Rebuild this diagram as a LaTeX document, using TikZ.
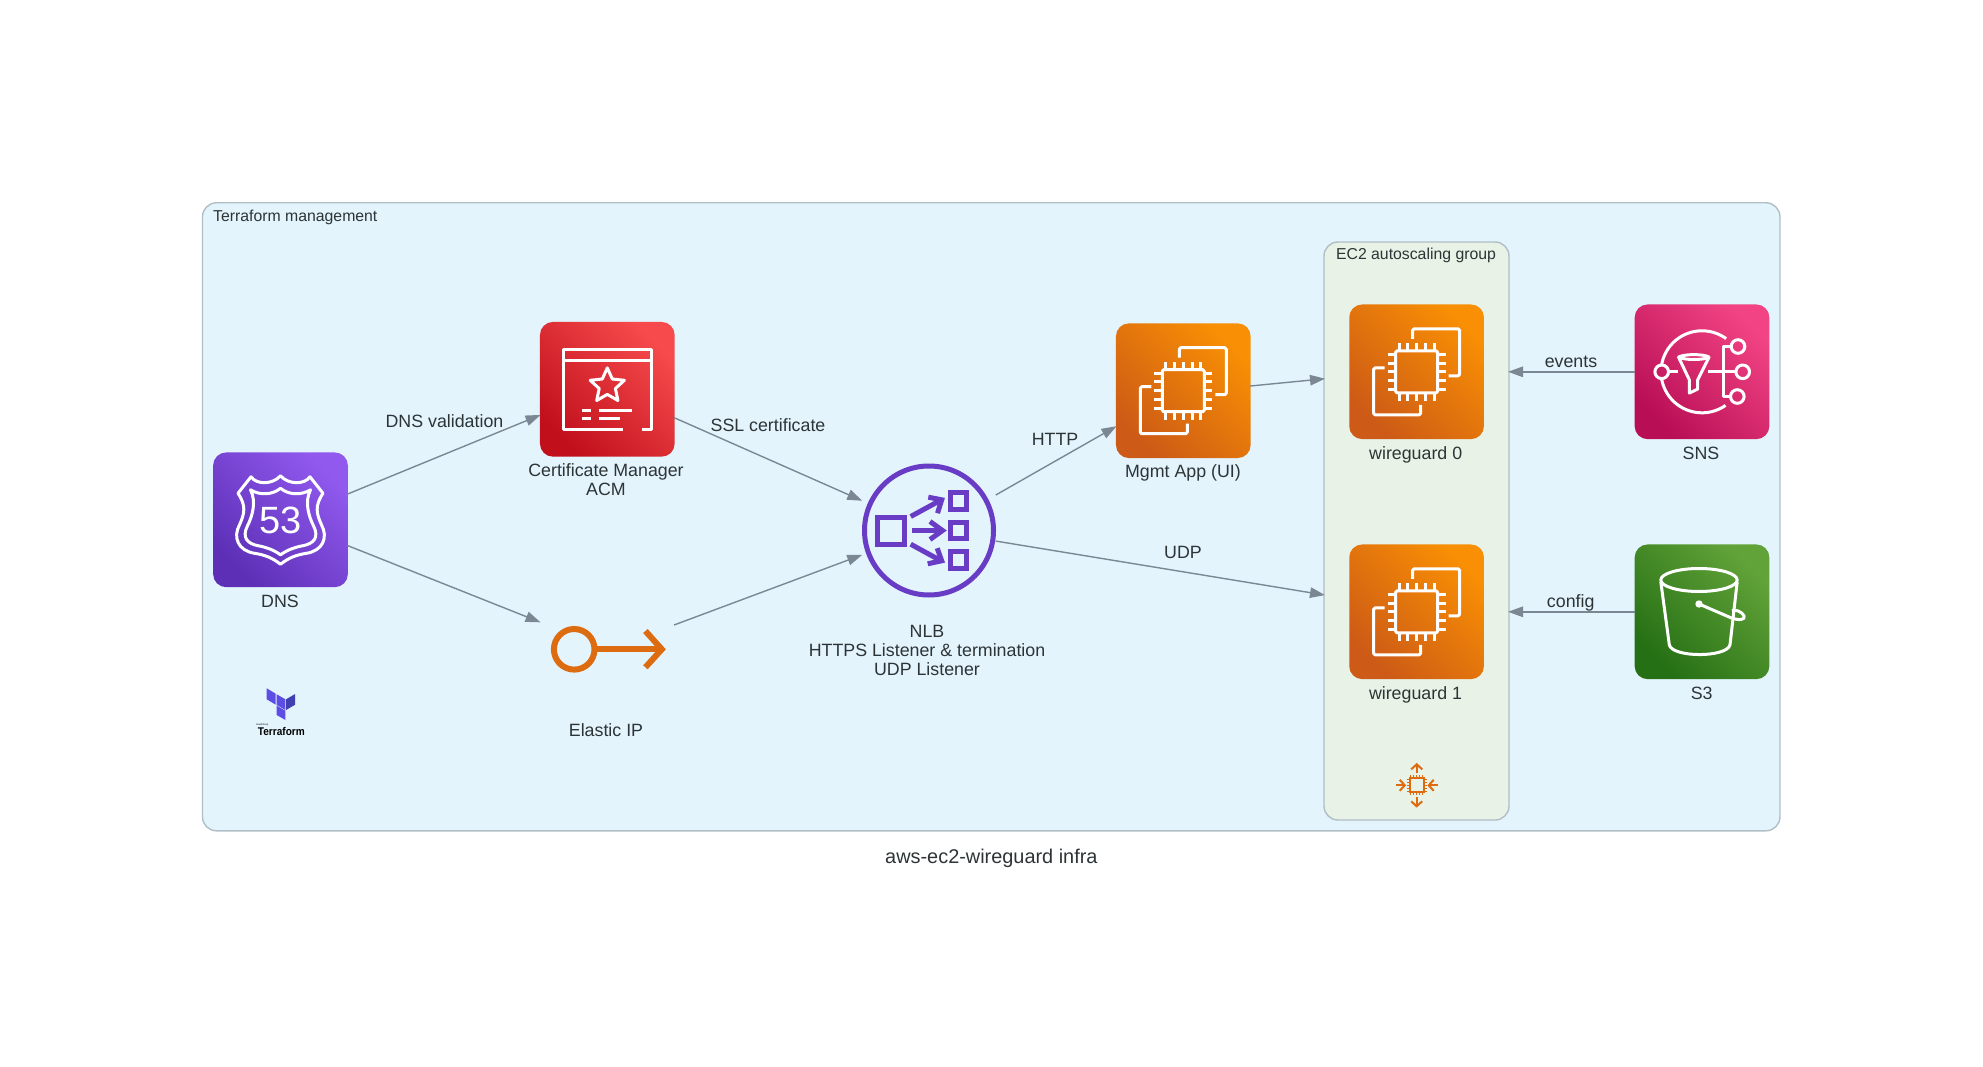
\documentclass[tikz,border=0pt]{standalone}
\usepackage{fontspec}
\setmainfont{Liberation Sans}
\usetikzlibrary{arrows.meta}
\definecolor{inktext}{HTML}{2D3436}
\definecolor{edgegrey}{HTML}{7B8894}
\definecolor{borderblue}{HTML}{B0BEC5}
\definecolor{orangeline}{HTML}{DD6B10}
\definecolor{purpleline}{HTML}{693CC5}
\definecolor{skyfill}{HTML}{E3F4FD}
\definecolor{sagefill}{HTML}{E9F2E6}
\definecolor{dnslow}{HTML}{5C2FB6}
\definecolor{dnshigh}{HTML}{9159EE}
\definecolor{acmlow}{HTML}{C1101C}
\definecolor{acmhigh}{HTML}{F64A4C}
\definecolor{ec2low}{HTML}{CD5A16}
\definecolor{ec2high}{HTML}{F88F04}
\definecolor{snslow}{HTML}{B80E55}
\definecolor{snshigh}{HTML}{F24484}
\definecolor{s3low}{HTML}{256F14}
\definecolor{s3high}{HTML}{62A339}
\definecolor{tflight}{HTML}{5C4EE5}
\definecolor{tfdark}{HTML}{4040B2}
\tikzset{
  clusterbox/.style={rectangle,draw=borderblue,line width=1.4pt,rounded corners=14pt,inner sep=0pt,outer sep=-1pt},
  awsicon/.style n args={2}{rectangle,rounded corners=13pt,minimum size=134.7pt,inner sep=0pt,outer sep=-.6pt,
    bottom color=#1,top color=#2,shading angle=-45},
  plainicon/.style={rectangle,minimum size=134.7pt,inner sep=0pt,outer sep=-.6pt},
  nodelabel/.style={anchor=base,inner sep=0pt,text=inktext,font=\fontsize{17.8}{19}\selectfont,align=center},
  clusterlabel/.style={anchor=base,inner sep=0pt,text=inktext,font=\fontsize{15.8}{18}\selectfont},
  titlelabel/.style={anchor=base,inner sep=0pt,text=inktext,font=\fontsize{19.9}{22}\selectfont},
  flow/.style={draw=edgegrey,line width=1.4pt,-{Triangle[length=15pt,width=10.5pt]}},
  iconline/.style={draw=white,line width=3pt,line join=round},
  pics/chipicon/.style={code={
    \draw[iconline,rounded corners=1.5pt] (-21,-21) rectangle (21,21);
    \foreach \p in {-17.6,-8.8,0,8.8,17.6} {
      \draw[iconline] (\p,-22) -- (\p,-29);
      \draw[iconline] (\p,22) -- (\p,29);
      \draw[iconline] (-22,\p) -- (-29,\p);
      \draw[iconline] (22,\p) -- (29,\p);
    }
    \draw[iconline,rounded corners=1.5pt] (-4,-33) -- (-4,-43) -- (43,-43) -- (43,4) -- (32,4);
    \draw[iconline,rounded corners=1.5pt] (-32,-4) -- (-43,-4) -- (-43,43) -- (4,43) -- (4,33);
  }},
  pics/shieldicon/.style={code={
    \draw[iconline] (-29.5,-43) .. controls (-24,-35) and (-8,-35) .. (0,-44)
      .. controls (8,-35) and (24,-35) .. (29.5,-43) -- (42.5,-26.5)
      .. controls (34,-14) and (36,-6) .. (41,5) .. controls (48,18) and (42,31) .. (26,33.5)
      .. controls (16,35) and (8,38) .. (0,44.5) .. controls (-8,38) and (-16,35) .. (-26,33.5)
      .. controls (-42,31) and (-48,18) .. (-41,5) .. controls (-36,-6) and (-34,-14) .. (-42.5,-26.5) -- cycle;
    \draw[iconline] (-30,-30) .. controls (-20,-24) and (-8,-25) .. (0,-31.5)
      .. controls (8,-25) and (20,-24) .. (30,-30)
      .. controls (24,-18) and (28,-4) .. (33,6) .. controls (39,18) and (33,24) .. (22,26)
      .. controls (14,27.5) and (7,30) .. (0,35) .. controls (-7,30) and (-14,27.5) .. (-22,26)
      .. controls (-33,24) and (-39,18) .. (-33,6) .. controls (-28,-4) and (-24,-18) .. (-30,-30) -- cycle;
    \node[text=white,inner sep=0pt,font=\fontsize{38}{38}\selectfont] (digits) at (0,1) {53};
  }},
  pics/certicon/.style={code={
    \draw[iconline] (16,40) -- (-44,40) -- (-44,-40) -- (44,-40) -- (44,40) -- (34.6,40);
    \draw[iconline] (-44,-28.5) -- (44,-28.5);
    \draw[iconline] (0,-21.4) -- (5,-10.3) -- (17.1,-9) -- (8.1,-0.8) -- (10.6,11.2) -- (0,5.1)
      -- (-10.6,11.2) -- (-8.1,-0.8) -- (-17.1,-9) -- (-5,-10.3) -- cycle;
    \draw[iconline] (-25,21) -- (-16.5,21);
    \draw[iconline] (-8.4,21) -- (24.8,21);
    \draw[iconline] (-25,28.7) -- (-16.5,28.7);
    \draw[iconline] (-8.4,28.7) -- (12.7,28.7);
  }},
  pics/topicicon/.style={code={
    \draw[iconline] plot[domain=54:170,samples=40] ({41*cos(\x)},{-41*sin(\x)});
    \draw[iconline] plot[domain=190:305,samples=40] ({41*cos(\x)},{-41*sin(\x)});
    \draw[iconline] (-40.3,0) circle (6.8);
    \draw[iconline] (-33.5,0) -- (-23.7,0);
    \draw[iconline] (-23.5,-14.7) .. controls (-18,-18) and (2,-18) .. (7,-14.7)
      .. controls (2,-11.5) and (-18,-11.5) .. (-23.5,-14.7) -- (-12.7,8) -- (-12.7,21.3) -- (-4.3,17.3) -- (-4.3,8) -- (7,-14.7);
    \draw[iconline] (6.3,0) -- (33.9,0);
    \draw[iconline] (40.7,0) circle (6.8);
    \draw[iconline] (29,-25.3) -- (21.3,-25.3) -- (21.3,24.7) -- (28.5,24.7);
    \draw[iconline] (36,-25.3) circle (6.8);
    \draw[iconline] (35.3,24.7) circle (6.8);
  }},
  pics/bucketicon/.style={code={
    \draw[iconline] (-3,-31.8) ellipse (38.2 and 11.5);
    \draw[iconline] (-41.2,-30) -- (-32.7,33) .. controls (-30,46) and (25,46) .. (28,33) -- (35.2,-30);
    \fill[white] (-3,-7.8) circle (3.7);
    \draw[iconline] (-3,-7.8) -- (29,6) .. controls (37,9) and (44,8) .. (42,4)
      .. controls (40,0) and (33,-3) .. (30,-1);
  }},
  pics/balancericon/.style={code={
    \begin{scope}[draw=purpleline,line width=5pt,line join=miter]
      \draw (0,0) circle (64.5);
      \draw (-51.5,-13.2) rectangle (-24.2,13.5);
      \draw (21,-38.4) rectangle (37.7,-21.3);
      \draw (21,-8.4) rectangle (37.7,7.7);
      \draw (21,21) rectangle (37.7,37.7);
      \draw (-18.3,-14) -- (11.5,-30.2);
      \draw (-0.7,-33.3) -- (12.7,-30.7) -- (8.5,-17.3);
      \draw (-16.7,0) -- (13,0);
      \draw (1,-9) -- (13.5,0) -- (1,9);
      \draw (-18.3,13.7) -- (11.5,30);
      \draw (-1.3,33.3) -- (12.7,30.3) -- (8.2,17.7);
    \end{scope}
  }},
  pics/keyicon/.style={code={
    \draw[draw=orangeline,line width=6pt] (-33.1,0) circle (20.3);
    \draw[draw=orangeline,line width=6pt] (-12.8,0) -- (54,0);
    \draw[draw=orangeline,line width=6pt] (38.1,-18.3) -- (54.5,0) -- (38.1,18);
  }},
  pics/scaleicon/.style={code={
    \draw[draw=orangeline,line width=2pt] (-7,-7) rectangle (7,7);
    \foreach \p in {-6,-3,0,3,6} {
      \draw[draw=orangeline,line width=1pt] (\p,-8) -- (\p,-10);
      \draw[draw=orangeline,line width=1pt] (\p,8) -- (\p,10);
      \draw[draw=orangeline,line width=1pt] (-8,\p) -- (-10,\p);
      \draw[draw=orangeline,line width=1pt] (8,\p) -- (10,\p);
    }
    \draw[draw=orangeline,line width=2pt] (0,-12) -- (0,-21);
    \draw[draw=orangeline,line width=2pt] (-5.5,-16) -- (0,-21) -- (5.5,-16);
    \draw[draw=orangeline,line width=2pt] (0,12) -- (0,21);
    \draw[draw=orangeline,line width=2pt] (-5.5,16) -- (0,21) -- (5.5,16);
    \draw[draw=orangeline,line width=2pt] (-21,0) -- (-12,0);
    \draw[draw=orangeline,line width=2pt] (-17,-5.5) -- (-12,0) -- (-17,5.5);
    \draw[draw=orangeline,line width=2pt] (21,0) -- (12,0);
    \draw[draw=orangeline,line width=2pt] (17,-5.5) -- (12,0) -- (17,5.5);
  }},
  pics/tflogo/.style={code={
    \fill[tflight] (-14.7,-27.7) -- (-5.7,-22.3) -- (-5.7,-11.3) -- (-14.7,-16.7) -- cycle;
    \fill[tflight] (-4.7,-21.7) -- (4,-16.7) -- (4,-6) -- (-4.7,-11) -- cycle;
    \fill[tfdark] (4.7,-16.7) -- (13.7,-22) -- (13.7,-11.3) -- (4.7,-6) -- cycle;
    \fill[tflight] (-4.7,-10.3) -- (4,-5.3) -- (4,4) -- (-4.7,-1) -- cycle;
    \node[anchor=base,inner sep=0pt,text=black,font=\fontsize{2.5}{3}\selectfont] (hashiword) at (-19,9) {HashiCorp};
    \node[anchor=base,inner sep=0pt,text=black,xscale=.9,font=\bfseries\fontsize{11.2}{12}\selectfont] (tfword) at (0,19.7) {Terraform};
  }},
}
\begin{document}
\begin{tikzpicture}[x=1pt,y=-1pt]
  \useasboundingbox (0,0) rectangle (1983,1067);
  \node[clusterbox,fill=skyfill,minimum width=1577.5pt,minimum height=628pt] (tfcluster) at (991.2,516.8) {};
  \node[clusterbox,fill=sagefill,minimum width=185pt,minimum height=578pt] (ec2group) at (1416.5,531) {};

  \node[awsicon={dnslow}{dnshigh}] (dns) at (280.5,519.8) {};
  \node[plainicon] (eip) at (607.3,649.3) {};
  \node[plainicon] (nlb) at (929,530.5) {};
  \node[awsicon={acmlow}{acmhigh}] (acm) at (607.3,389.3) {};
  \node[awsicon={ec2low}{ec2high}] (mgmt) at (1183.3,390.7) {};
  \node[awsicon={ec2low}{ec2high}] (wg0) at (1416.6,371.8) {};
  \node[awsicon={ec2low}{ec2high}] (wg1) at (1416.6,611.8) {};
  \node[awsicon={snslow}{snshigh}] (sns) at (1702,371.8) {};
  \node[awsicon={s3low}{s3high}] (s3) at (1702,611.8) {};
  \coordinate (tfspot) at (281.4,716);
  \coordinate (scalespot) at (1416.7,785.3);

  \pic at (dns) {shieldicon};
  \pic at (acm) {certicon};
  \pic at (eip) {keyicon};
  \pic at (nlb) {balancericon};
  \pic at (mgmt) {chipicon};
  \pic at (wg0) {chipicon};
  \pic at (wg1) {chipicon};
  \pic at (sns) {topicicon};
  \pic at (s3) {bucketicon};
  \pic at (scalespot) {scaleicon};
  \pic at (tfspot) {tflogo};

  \draw[flow] (dns.21.8) -- (acm.201.7);
  \draw[flow] (dns.-21.8) -- (eip.158.6);
  \draw[flow] (acm.-23.2) -- (nlb.156.9);
  \draw[flow] (eip.20.4) -- (nlb.200.2);
  \draw[flow] (nlb.28.8) -- (mgmt.208.4);
  \draw[flow] (nlb.-9.7) -- (ec2group.215.5);
  \draw[flow] (mgmt.4.5) -- (ec2group.121.1);
  \draw[flow] (sns.west) -- (sns.west -| ec2group.east);
  \draw[flow] (s3.west) -- (s3.west -| ec2group.east);

  \node[clusterlabel] (tftitle) at (295.3,221.7) {Terraform management};
  \node[clusterlabel] (ec2title) at (1416,259.3) {EC2 autoscaling group};
  \node[nodelabel] (dnslabel) at (280,607.5) {DNS};
  \node[nodelabel] (acmlabel) at (606,495) {Certificate Manager\\ACM};
  \node[nodelabel] (eiplabel) at (606,736) {Elastic IP};
  \node[nodelabel] (nlblabel) at (927,675.3) {NLB\\HTTPS Listener \& termination\\UDP Listener};
  \node[nodelabel] (mgmtlabel) at (1183,477.3) {Mgmt App (UI)};
  \node[nodelabel] (wg0label) at (1415.7,459) {wireguard 0};
  \node[nodelabel] (wg1label) at (1415.5,699.3) {wireguard 1};
  \node[nodelabel] (snslabel) at (1701,459) {SNS};
  \node[nodelabel] (s3label) at (1701.7,699.3) {S3};
  \node[nodelabel] (validlabel) at (444.5,427.3) {DNS validation};
  \node[nodelabel] (ssllabel) at (768,431.7) {SSL certificate};
  \node[nodelabel] (httplabel) at (1055,445) {HTTP};
  \node[nodelabel] (udplabel) at (1183,558.3) {UDP};
  \node[nodelabel] (eventslabel) at (1571,367.3) {events};
  \node[nodelabel] (configlabel) at (1570.7,607.7) {config};
  \node[titlelabel] (infratitle) at (991.4,863.3) {aws-ec2-wireguard infra};
\end{tikzpicture}
\end{document}
